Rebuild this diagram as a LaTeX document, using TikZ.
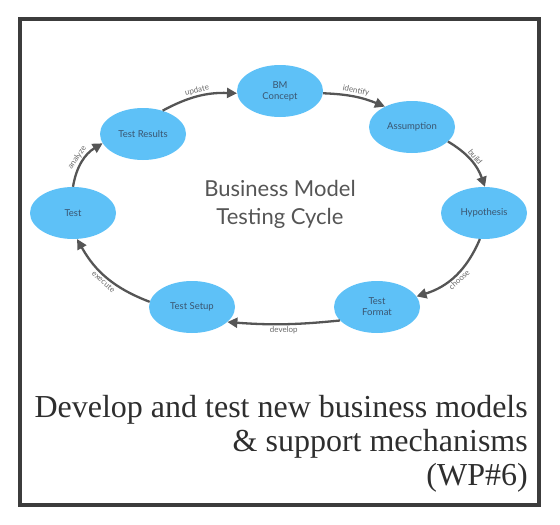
\documentclass[tikz,border=0pt]{standalone}
\usepackage{fontspec}
\setmainfont{Liberation Serif}
\newfontfamily\lato{Lato}
\usetikzlibrary{arrows.meta,shapes.geometric}
\definecolor{nodeblue}{HTML}{5EC1F7}
\definecolor{nodetext}{HTML}{3A5570}
\definecolor{arrowgray}{HTML}{555555}
\definecolor{lblgray}{HTML}{6A6A6A}
\definecolor{titlegray}{HTML}{555555}
\definecolor{framegray}{HTML}{3C3C3C}
\definecolor{captext}{HTML}{2E2E2E}
\begin{document}
\begin{tikzpicture}[x=1pt,y=1pt,
  stage/.style={ellipse, fill=nodeblue, minimum width=86pt, minimum height=52pt, inner sep=0pt,
    font=\lato\fontsize{9.5}{11}\selectfont, text=nodetext, align=center},
  flow/.style={draw=arrowgray, line width=2.3pt, -{Triangle[length=10pt,width=10pt]}},
  lbl/.style={font=\lato\fontsize{8}{9}\selectfont, text=lblgray, sloped, inner sep=1.5pt}]
\useasboundingbox (0,0) rectangle (560,-525);
\draw[framegray, line width=4.5pt] (20,-19) rectangle (539,-505);

\node[stage] (bm) at (280,-91) {BM\\Concept};
\node[stage] (as) at (412,-127) {Assumption};
\node[stage] (hy) at (484,-213) {Hypothesis};
\node[stage] (tf) at (377,-307) {Test\\Format};
\node[stage] (ts) at (192,-307) {Test Setup};
\node[stage] (te) at (73,-213) {Test};
\node[stage] (tr) at (143,-134) {Test Results};

\draw[flow] (tr.50) to[bend left=15] node[lbl,above] {update} (bm.183);
\draw[flow] (bm.-3) to[bend left=10] node[lbl,above] {identify} (as.143);
\draw[flow] (as.-22) to[bend left=20] node[lbl,above] {build} (hy.88);
\draw[flow] (hy.-99) to[bend left=25] node[lbl,below] {choose} (tf.15);
\draw[flow] (tf.200) to[bend left=5] node[lbl,below] {develop} (ts.337);
\draw[flow] (ts.173) to[bend left=20] node[lbl,below] {execute} (te.-81);
\draw[flow] (te.90) to[bend left=25] node[lbl,above] {analyze} (tr.193);

\node[font=\lato\fontsize{22}{28}\selectfont, text=titlegray, align=center] (title) at (280,-204) {Business Model\\Testing Cycle};

\node[anchor=east, align=right, inner sep=0pt, font=\fontsize{32}{34}\selectfont, text=captext] (cap) at (528,-444)
  {Develop and test new business models\\\& support mechanisms\\(WP\#6)};
\end{tikzpicture}
\end{document}
